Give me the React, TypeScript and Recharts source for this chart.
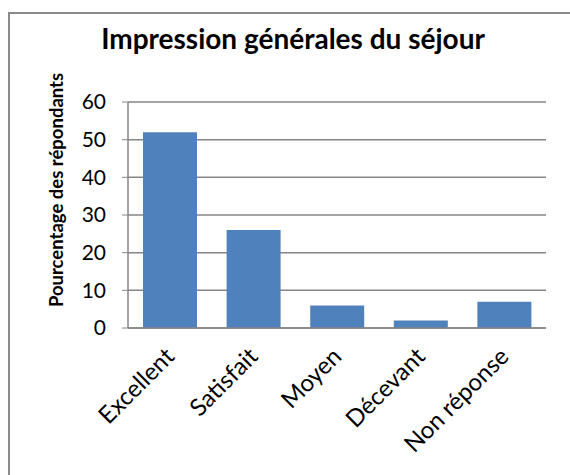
import { BarChart, Bar, XAxis, YAxis, CartesianGrid } from 'recharts';

const categories = ['Excellent', 'Satisfait', 'Moyen', 'Décevant', 'Non réponse'];
const percentages = [52, 26, 6, 2, 7];
const yTicks = [0, 10, 20, 30, 40, 50, 60];

const data = categories.map((name, i) => ({ name, value: percentages[i] }));

const FONT = 'Lato, "Open Sans", sans-serif';

// rotated category labels, like the Excel export
function CategoryTick(props: any) {
  const { x, y, payload } = props;
  return (
    <text
      transform={`translate(${x + 6},${y + 22}) rotate(-45)`}
      textAnchor="end"
      fontSize={24}
      fontFamily={FONT}
      fill="#000"
    >
      {payload.value}
    </text>
  );
}

function YLabel() {
  return (
    <text
      transform="translate(55,178) rotate(-90)"
      textAnchor="middle"
      fontSize={18.5}
      fontWeight="bold"
      fontFamily={FONT}
      fill="#000"
    >
      Pourcentage des répondants
    </text>
  );
}

export default function App() {
  return (
    <div
      style={{
        position: 'absolute',
        left: 8,
        top: 12,
        width: 562,
        height: 463,
        borderLeft: '2px solid #8a8a8a',
        borderTop: '2px solid #8a8a8a',
        boxSizing: 'border-box',
        overflow: 'hidden',
        background: '#fff',
      }}
    >
      <div
        style={{
          position: 'absolute',
          left: 0,
          top: 7,
          width: 566,
          textAlign: 'center',
          fontFamily: FONT,
          fontWeight: 'bold',
          fontSize: 28,
          color: '#000',
        }}
      >
        Impression générales du séjour
      </div>
      <div style={{ position: 'absolute', left: -2, top: -2 }}>
        <BarChart
          width={562}
          height={463}
          data={data}
          margin={{ top: 90, right: 24, left: 0, bottom: 0 }}
        >
          <CartesianGrid vertical={false} stroke="#868686" strokeWidth={1.5} />
          <XAxis
            dataKey="name"
            height={147}
            tick={<CategoryTick />}
            tickLine={false}
            axisLine={{ stroke: '#868686', strokeWidth: 1.5 }}
            interval={0}
          />
          <YAxis
            width={120}
            domain={[0, 60]}
            ticks={yTicks}
            interval={0}
            tickSize={6}
            tickMargin={16}
            tickLine={{ stroke: '#868686' }}
            axisLine={{ stroke: '#868686', strokeWidth: 1.5 }}
            tick={{ fontSize: 21, fontFamily: FONT, fill: '#000' }}
            label={<YLabel />}
          />
          <Bar dataKey="value" fill="#4F81BD" barSize={54} isAnimationActive={false} />
        </BarChart>
      </div>
    </div>
  );
}
